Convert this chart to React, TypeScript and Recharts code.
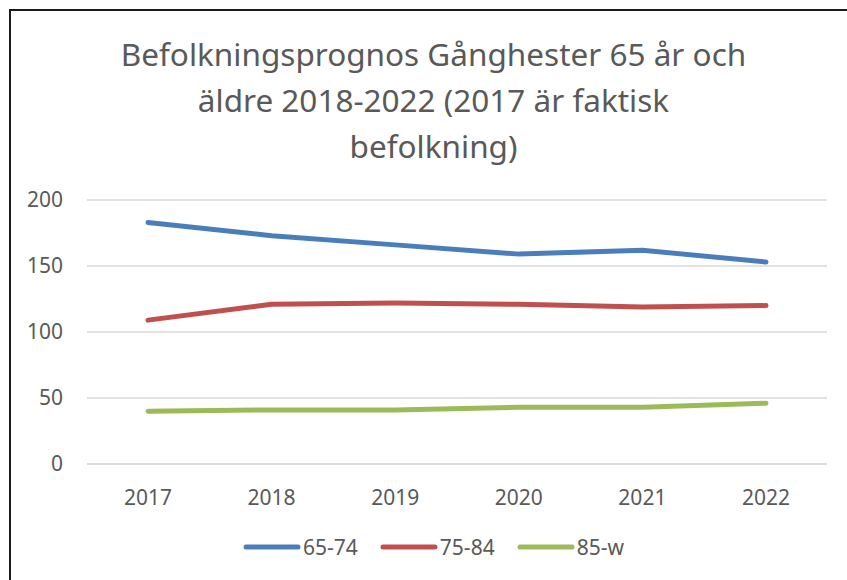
import React from "react";
import { LineChart, Line, XAxis, YAxis, CartesianGrid } from "recharts";

const years = ["2017", "2018", "2019", "2020", "2021", "2022"];
const age65to74 = [183, 173, 166, 159, 162, 153];
const age75to84 = [109, 121, 122, 121, 119, 120];
const age85plus = [40, 41, 41, 43, 43, 46];
const yTicks = [0, 50, 100, 150, 200];
const titleLines = [
  "Befolkningsprognos Gånghester 65 år och",
  "äldre 2018-2022 (2017 är faktisk",
  "befolkning)",
];

const seriesDefs = [
  { key: "s1", name: "65-74", color: "#4a7ebb" },
  { key: "s2", name: "75-84", color: "#c0504d" },
  { key: "s3", name: "85-w", color: "#9bbb59" },
];

const data = years.map((y, i) => ({
  year: y,
  s1: age65to74[i],
  s2: age75to84[i],
  s3: age85plus[i],
}));

const FONT = "'Noto Sans', sans-serif";
const TEXT = "#595959";

const LegendBox = () => (
  <div
    style={{
      position: "absolute",
      left: 0,
      top: 533,
      width: 867,
      display: "flex",
      justifyContent: "center",
      alignItems: "center",
      fontFamily: FONT,
      fontSize: 21,
      color: TEXT,
    }}
  >
    {seriesDefs.map((s, i) => (
      <div
        key={s.key}
        style={{ display: "flex", alignItems: "center", marginLeft: i === 0 ? 0 : 22 }}
      >
        <svg width={58} height={8} style={{ marginRight: 2 }}>
          <line x1={3} y1={4} x2={55} y2={4} stroke={s.color} strokeWidth={5} strokeLinecap="round" />
        </svg>
        <span>{s.name}</span>
      </div>
    ))}
  </div>
);

export default function App() {
  return (
    <div style={{ position: "absolute", left: 0, top: 0, width: 847, height: 580, background: "#fff", overflow: "hidden" }}>
      <div
        style={{
          position: "absolute",
          left: 9,
          top: 9,
          width: 900,
          height: 700,
          border: "2px solid #1a1a1a",
          boxSizing: "border-box",
        }}
      />
      <div
        style={{
          position: "absolute",
          left: 0,
          top: 31,
          width: 867,
          textAlign: "center",
          fontFamily: FONT,
          fontSize: 31.5,
          lineHeight: "46px",
          color: TEXT,
        }}
      >
        {titleLines.map((t) => (
          <div key={t}>{t}</div>
        ))}
      </div>
      <div style={{ position: "absolute", left: 0, top: 0 }}>
        <LineChart width={847} height={580} data={data} margin={{ top: 200, right: 20, bottom: 66, left: 27 }}>
          <CartesianGrid vertical={false} stroke="#d9d9d9" strokeWidth={1.5} />
          <XAxis
            dataKey="year"
            axisLine={{ stroke: "#d9d9d9", strokeWidth: 1.5 }}
            tickLine={false}
            tick={{ fill: TEXT, fontSize: 21, fontFamily: FONT }}
            tickMargin={20}
            height={50}
            padding={{ left: 61, right: 61 }}
          />
          <YAxis
            domain={[0, 200]}
            ticks={yTicks}
            axisLine={false}
            tickLine={false}
            tick={{ fill: TEXT, fontSize: 21, fontFamily: FONT }}
            tickMargin={18}
            width={60}
          />
          {seriesDefs.map((s) => (
            <Line
              key={s.key}
              type="linear"
              dataKey={s.key}
              name={s.name}
              stroke={s.color}
              strokeWidth={5}
              strokeLinecap="round"
              dot={false}
              activeDot={false}
              isAnimationActive={false}
            />
          ))}
        </LineChart>
      </div>
      <LegendBox />
    </div>
  );
}
